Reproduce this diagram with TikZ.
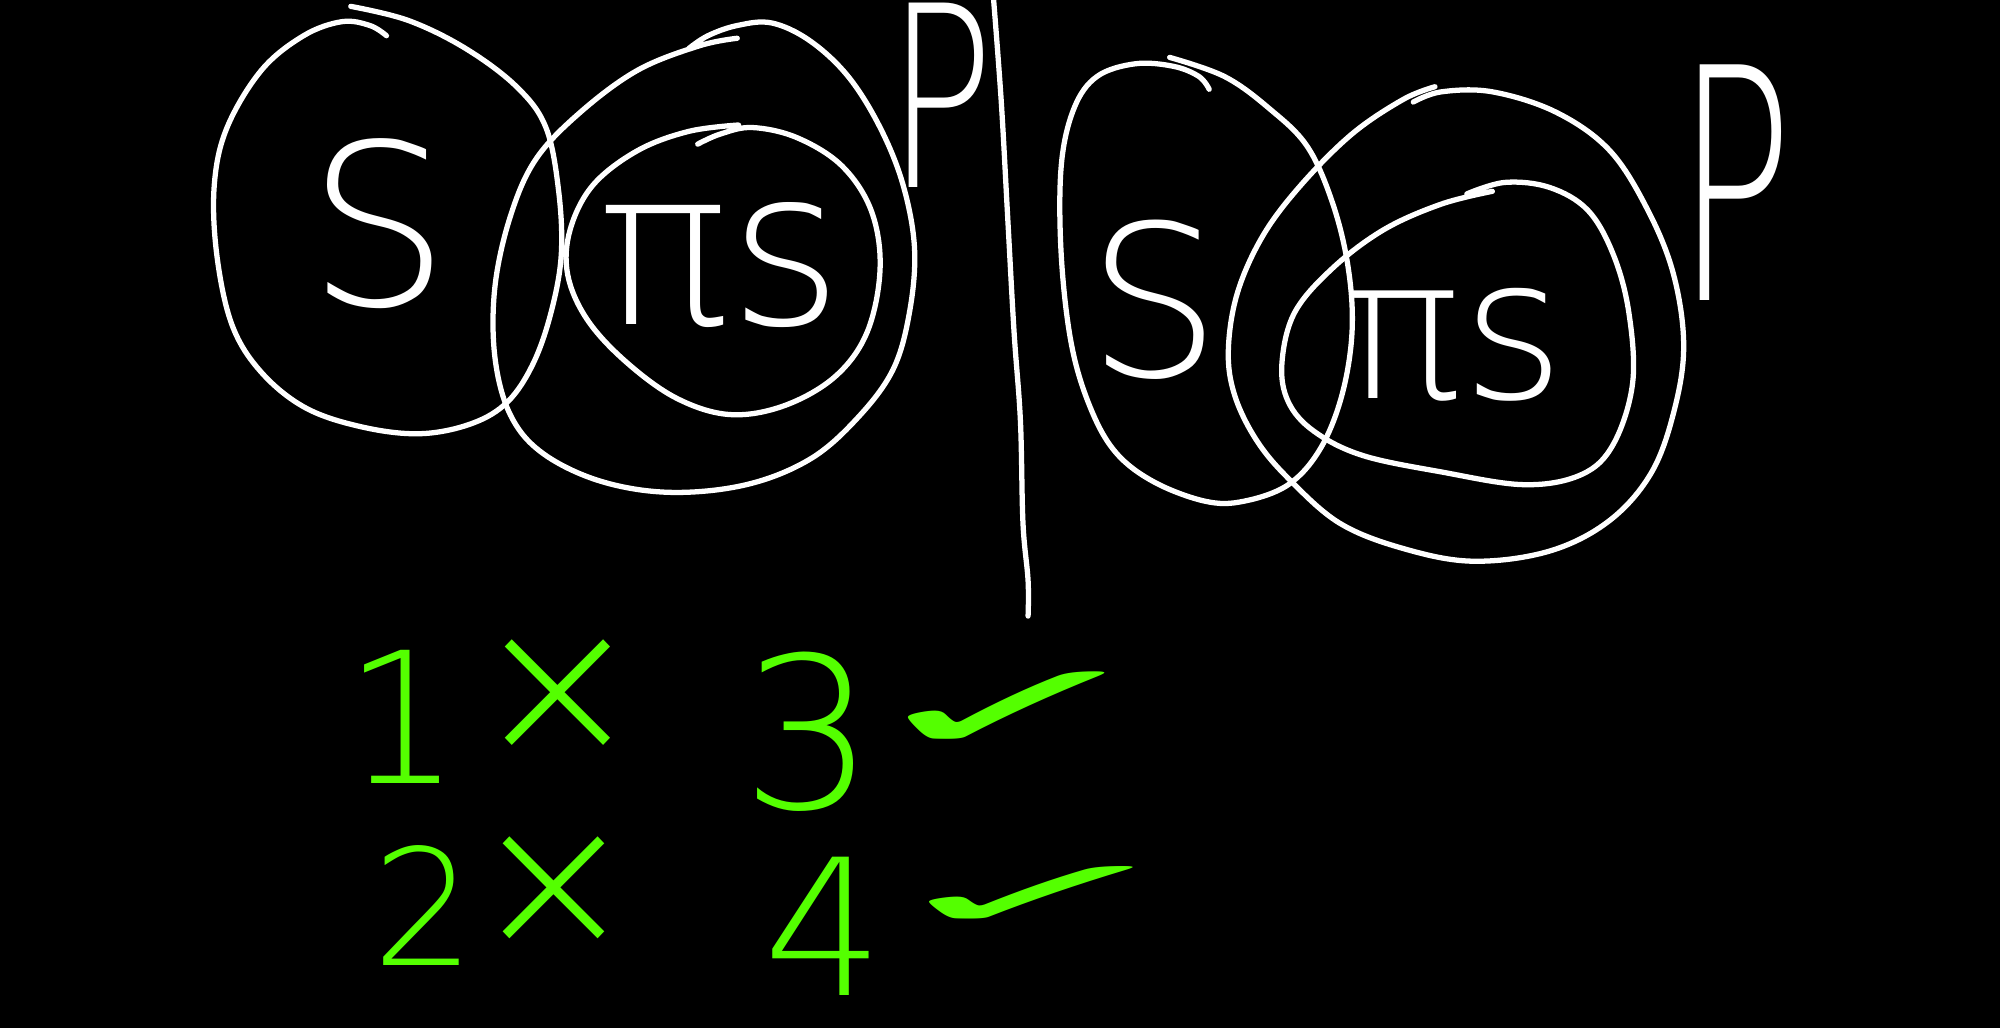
\documentclass[tikz,border=0pt]{standalone}
\usepackage{fontspec}
\usepackage{graphicx}
\usepackage{xcolor}
\usepackage{tikz}
\usetikzlibrary{positioning}

\newfontfamily\handfont{DejaVuSans-ExtraLight.ttf}
\newfontfamily\symfont{DejaVu Sans}
\newcommand{\handsize}[1]{\fontsize{#1}{#1}\selectfont}
\definecolor{chalkgreen}{RGB}{84,255,0}

\begin{document}
\begin{tikzpicture}[
    x=0.012755cm, y=-0.012755cm,
    chalk/.style={
        white,
        line width=1.5pt,
        line cap=round,
        line join=round
    },
    setlabel/.style={text=white, inner sep=0pt, font=\handfont},
    answer/.style={text=chalkgreen, inner sep=0pt, font=\handfont},
    tickmark/.style={text=chalkgreen, inner sep=0pt, font=\symfont}
]

% board
\fill[black] (0,0) rectangle (1568,806);
\useasboundingbox (0,0) rectangle (1568,806);

% left sketch
\draw[chalk] plot[smooth, tension=0.6] coordinates {
    (275,5) (320,16) (365,38) (405,68) (428,100) (438,150) (440,200)
    (432,245) (418,285) (398,315) (370,332) (330,340) (285,335) (240,320)
    (205,292) (182,255) (170,200) (168,145) (178,100) (205,55) (238,28)
    (268,17) (290,20) (303,28)};
\draw[chalk] plot[smooth, tension=0.6] coordinates {
    (578,30) (548,36) (500,55) (455,88) (420,125) (400,170) (388,225)
    (388,280) (400,325) (425,355) (470,377) (525,386) (585,380) (635,360)
    (672,328) (700,290) (713,245) (717,195) (708,145) (690,100) (665,60)
    (635,32) (605,18) (578,20) (555,28) (540,38)};
\draw[chalk] plot[smooth, tension=0.6] coordinates {
    (579,98) (540,103) (500,118) (465,145) (447,180) (445,215) (460,250)
    (490,283) (530,312) (572,325) (615,318) (655,295) (680,260) (690,210)
    (683,165) (660,130) (625,108) (590,100) (565,105) (547,113)};

\node (sLeft)  [setlabel] at (297,175) {\handsize{64}S};
\node (psLeft) [setlabel] at (565,208) {\handsize{62}πs};
\node (pLeft)  [setlabel] at (738,75)  {\handsize{72}\scalebox{0.7}[1]{P}};

% divider
\draw[chalk] plot[smooth, tension=0.6] coordinates {
    (779,0) (785,80) (790,170) (795,260) (800,330) (802,410) (806,455) (806,483)};

% right sketch
\draw[chalk] plot[smooth, tension=0.6] coordinates {
    (917,45) (960,60) (995,85) (1025,115) (1045,160) (1057,210) (1060,260)
    (1052,310) (1035,352) (1010,380) (975,393) (945,393) (905,378) (875,355)
    (855,320) (840,270) (832,200) (832,130) (842,85) (860,60) (890,50)
    (920,52) (940,60) (948,70)};
\draw[chalk] plot[smooth, tension=0.6] coordinates {
    (1125,68) (1100,78) (1060,105) (1020,145) (990,185) (970,230) (963,275)
    (968,310) (985,345) (1010,375) (1050,410) (1100,430) (1155,440)
    (1215,432) (1262,408) (1295,370) (1313,320) (1320,270) (1312,215)
    (1292,165) (1262,118) (1220,88) (1170,72) (1130,72) (1108,80)};
\draw[chalk] plot[smooth, tension=0.6] coordinates {
    (1170,150) (1130,160) (1085,180) (1045,210) (1015,245) (1005,285)
    (1010,315) (1030,338) (1068,357) (1130,370) (1195,380) (1240,372)
    (1265,348) (1280,300) (1277,245) (1265,200) (1245,165) (1215,147)
    (1180,143) (1150,152)};

\node (sRight)  [setlabel] at (905,235)  {\handsize{60}S};
\node (psRight) [setlabel] at (1140,270) {\handsize{56}πs};
\node (pRight)  [setlabel] at (1360,143) {\handsize{92}\scalebox{0.6}[1]{P}};

% answers
\node (one)    [answer] at (316,562) {\handsize{52}1};
\node (crossA) [answer] at (437,547) {\handsize{58}×};
\node (two)    [answer] at (332,710) {\handsize{46}2};
\node (crossB) [answer] at (434,700) {\handsize{56}×};
\node (three)  [answer] at (634,574) {\handsize{60}3};
\node (tickA)  [tickmark] at (792,558) {\handsize{36}\scalebox{3.0}[1]{✓}};
\node (four)   [answer] at (646,726) {\handsize{54}4};
\node (tickB)  [tickmark] at (812,704) {\handsize{28}\scalebox{4.0}[1]{✓}};

\end{tikzpicture}
\end{document}
